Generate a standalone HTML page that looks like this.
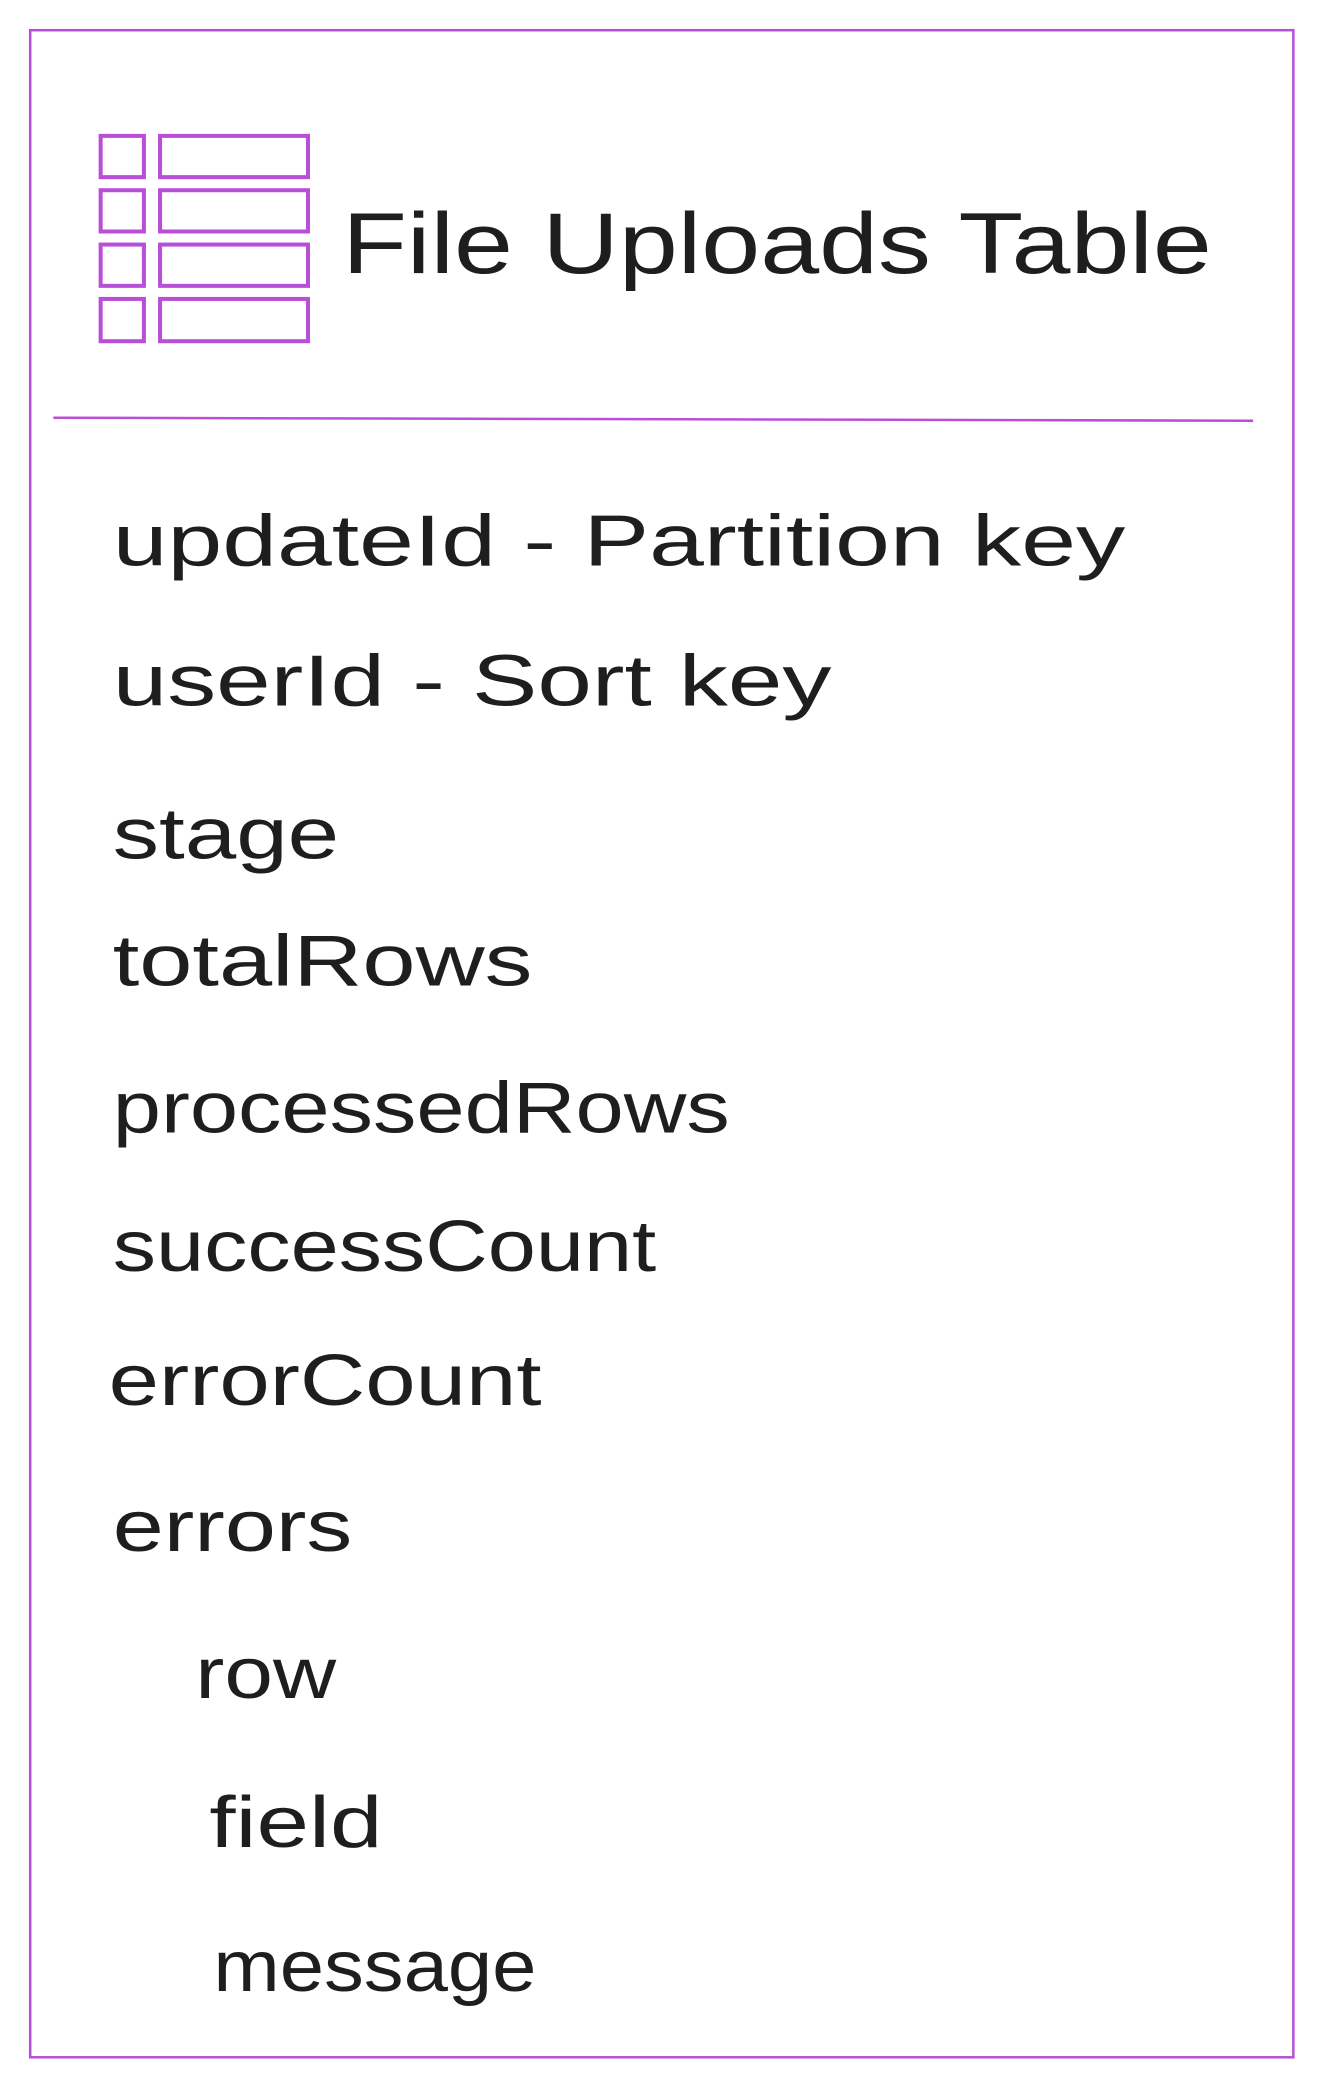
<!DOCTYPE html>
<html><head><meta charset="utf-8"><style>
html,body{margin:0;padding:0;background:#fff;}
svg{display:block;}
text{font-family:"Liberation Sans",sans-serif;fill:#1e1e1e;}
</style></head><body>
<svg width="1323" height="2086" viewBox="0 0 1323 2086" xmlns="http://www.w3.org/2000/svg">
<rect x="0" y="0" width="1323" height="2086" fill="#fff"/>
<g transform="scale(1.0065)">
<rect x="30" y="30" width="1255" height="2014" fill="none" stroke="#b84fd6" stroke-width="2.5"/>
<g fill="none" stroke="#b84fd6" stroke-width="4">
<rect x="100" y="135" width="43" height="41"/><rect x="159" y="135" width="147" height="41"/>
<rect x="100" y="189" width="43" height="41"/><rect x="159" y="189" width="147" height="41"/>
<rect x="100" y="243" width="43" height="41"/><rect x="159" y="243" width="147" height="41"/>
<rect x="100" y="297" width="43" height="42"/><rect x="159" y="297" width="147" height="42"/>
</g>
<line x1="53" y1="415" x2="1245" y2="418" stroke="#b84fd6" stroke-width="2.5"/>
<text x="340" y="271" font-size="86" textLength="864" lengthAdjust="spacingAndGlyphs">File Uploads Table</text>
<g font-size="72">
<text x="112" y="562" textLength="1006" lengthAdjust="spacingAndGlyphs">updateId - Partition key</text>
<text x="112" y="701" textLength="714" lengthAdjust="spacingAndGlyphs">userId - Sort key</text>
<text x="112" y="853" textLength="225" lengthAdjust="spacingAndGlyphs">stage</text>
<text x="112" y="979" textLength="417" lengthAdjust="spacingAndGlyphs">totalRows</text>
<text x="112" y="1125" textLength="613" lengthAdjust="spacingAndGlyphs">processedRows</text>
<text x="112" y="1263" textLength="540" lengthAdjust="spacingAndGlyphs">successCount</text>
<text x="108" y="1396" textLength="430" lengthAdjust="spacingAndGlyphs">errorCount</text>
<text x="112" y="1541" textLength="238" lengthAdjust="spacingAndGlyphs">errors</text>
<text x="194" y="1687" textLength="140" lengthAdjust="spacingAndGlyphs">row</text>
<text x="208" y="1835" textLength="172" lengthAdjust="spacingAndGlyphs">field</text>
<text x="212" y="1978" textLength="321" lengthAdjust="spacingAndGlyphs">message</text>
</g>
</g>
</svg>
</body></html>
